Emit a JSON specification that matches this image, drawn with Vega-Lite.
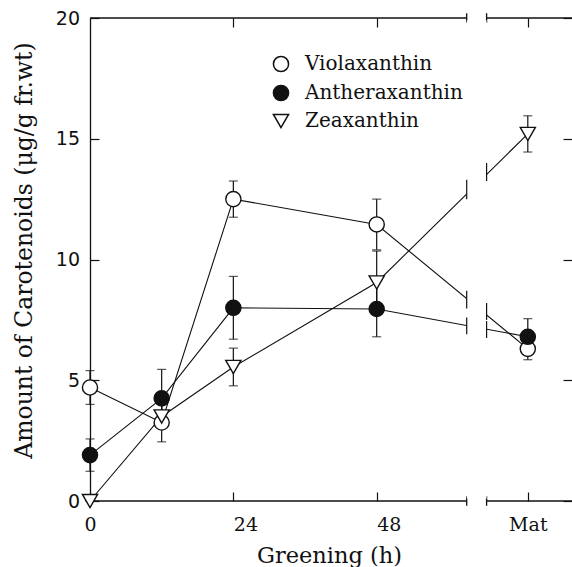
{
  "$schema": "https://vega.github.io/schema/vega-lite/v6.json",
  "width": 482,
  "height": 483,
  "autosize": {"type": "none"},
  "padding": {"left": 90, "top": 18, "right": 0, "bottom": 66},
  "background": "white",
  "config": {
    "view": {"stroke": null},
    "axis": {"tickColor": "#111", "tickWidth": 1.2, "domainColor": "#111", "domainWidth": 1.3, "labelColor": "#111", "titleColor": "#111", "grid": false}
  },
  "datasets": {
    "pts": [
      {"series": "Violaxanthin", "t": 0, "v": 4.7, "err": 0.7},
      {"series": "Violaxanthin", "t": 12, "v": 3.25, "err": 0.8},
      {"series": "Violaxanthin", "t": 24, "v": 12.5, "err": 0.75},
      {"series": "Violaxanthin", "t": 48, "v": 11.45, "err": 1.05},
      {"series": "Violaxanthin", "t": 73.3, "v": 6.3, "err": 0.45},
      {"series": "Antheraxanthin", "t": 0, "v": 1.9, "err": 0.67},
      {"series": "Antheraxanthin", "t": 12, "v": 4.25, "err": 1.2},
      {"series": "Antheraxanthin", "t": 24, "v": 8.0, "err": 1.3},
      {"series": "Antheraxanthin", "t": 48, "v": 7.95, "err": 1.15},
      {"series": "Antheraxanthin", "t": 73.3, "v": 6.8, "err": 0.75},
      {"series": "Zeaxanthin", "t": 0, "v": 0.0, "err": 0},
      {"series": "Zeaxanthin", "t": 12, "v": 3.5, "err": 0.5},
      {"series": "Zeaxanthin", "t": 24, "v": 5.55, "err": 0.78},
      {"series": "Zeaxanthin", "t": 48, "v": 9.05, "err": 1.3},
      {"series": "Zeaxanthin", "t": 73.3, "v": 15.2, "err": 0.75}
    ],
    "hframe": [
      {"x": 0, "x2": 63.07, "y": 0},
      {"x": 66.4, "x2": 80.7, "y": 0},
      {"x": 0, "x2": 63.07, "y": 20},
      {"x": 66.4, "x2": 80.7, "y": 20}
    ],
    "caps": [
      {"x": 63.07, "y": -0.2, "y2": 0.2},
      {"x": 66.4, "y": -0.2, "y2": 0.2},
      {"x": 63.07, "y": 19.8, "y2": 20.2},
      {"x": 66.4, "y": 19.8, "y2": 20.2}
    ],
    "gap": [
      {"x": 63.07, "x2": 66.4, "y": 0.1, "y2": 19.9}
    ],
    "bars": [
      {"x": 63.07, "y": 7.97, "y2": 8.71},
      {"x": 66.4, "y": 7.5, "y2": 8.2},
      {"x": 63.07, "y": 6.9, "y2": 7.6},
      {"x": 66.4, "y": 6.75, "y2": 7.45},
      {"x": 63.07, "y": 12.5, "y2": 13.3},
      {"x": 66.4, "y": 13.25, "y2": 14.0}
    ]
  },
  "resolve": {"axis": {"x": "independent", "y": "independent"}},
  "layer": [
    {
      "data": {"name": "hframe"},
      "mark": {"type": "rule", "color": "#111", "strokeWidth": 1.3},
      "encoding": {
        "x": {"field": "x", "type": "quantitative", "scale": {"domain": [0, 80.7], "nice": false, "zero": false},
          "axis": {"orient": "bottom", "values": [0, 24, 48, 73.3], "labelExpr": "datum.value > 70 ? 'Mat' : datum.label",
            "tickSize": -9, "domain": false, "labelFont": "DejaVu Serif", "labelFontSize": 19, "labelPadding": 23,
            "labelAlign": {"condition": {"test": "datum.value == 24 || datum.value == 48", "value": "left"}, "value": "center"},
            "labelBaseline": "top",
            "title": "Greening (h)", "titleFont": "DejaVu Serif", "titleFontSize": 22.5, "titleFontWeight": "normal",
            "titleX": 239, "titleY": 61, "titleAlign": "center", "titleBaseline": "alphabetic"}},
        "x2": {"field": "x2"},
        "y": {"field": "y", "type": "quantitative", "scale": {"domain": [0, 20], "nice": false, "zero": false},
          "axis": {"orient": "left", "values": [0, 5, 10, 15, 20], "tickSize": -9, "domain": true,
            "labelFont": "DejaVu Sans", "labelFontSize": 19, "labelPadding": 19.5, "labelBaseline": "middle",
            "title": "Amount of Carotenoids (\u03bcg/g fr.wt)", "titleFont": "DejaVu Serif", "titleFontSize": 23.5, "titleFontWeight": "normal",
            "titleX": -58.5, "titleY": 232, "titleAlign": "center", "titleBaseline": "alphabetic", "titleAngle": -90}}
      }
    },
    {
      "data": {"name": "caps"},
      "mark": {"type": "rule", "color": "#111", "strokeWidth": 1.3},
      "encoding": {
        "x": {"field": "x", "type": "quantitative", "scale": {"domain": [0, 80.7], "nice": false, "zero": false},
          "axis": {"orient": "top", "values": [24, 48, 73.3], "labels": false, "tickSize": -9, "domain": false, "title": null}},
        "y": {"field": "y", "type": "quantitative", "scale": {"domain": [0, 20], "nice": false, "zero": false},
          "axis": {"orient": "right", "values": [0, 5, 10, 15, 20], "labels": false, "tickSize": -9, "domain": false, "title": null}},
        "y2": {"field": "y2"}
      }
    },
    {
      "data": {"name": "pts"},
      "mark": {"type": "line", "color": "#111", "strokeWidth": 1.1},
      "encoding": {
        "x": {"field": "t", "type": "quantitative", "scale": {"domain": [0, 80.7], "nice": false, "zero": false}, "axis": null},
        "y": {"field": "v", "type": "quantitative", "scale": {"domain": [0, 20], "nice": false, "zero": false}, "axis": null},
        "detail": {"field": "series", "type": "nominal"}
      }
    },
    {
      "data": {"name": "gap"},
      "mark": {"type": "rect", "fill": "white", "stroke": null},
      "encoding": {
        "x": {"field": "x", "type": "quantitative", "scale": {"domain": [0, 80.7], "nice": false, "zero": false}, "axis": null},
        "x2": {"field": "x2"},
        "y": {"field": "y", "type": "quantitative", "scale": {"domain": [0, 20], "nice": false, "zero": false}, "axis": null},
        "y2": {"field": "y2"}
      }
    },
    {
      "data": {"name": "bars"},
      "mark": {"type": "rule", "color": "#111", "strokeWidth": 1.2},
      "encoding": {
        "x": {"field": "x", "type": "quantitative", "scale": {"domain": [0, 80.7], "nice": false, "zero": false}, "axis": null},
        "y": {"field": "y", "type": "quantitative", "scale": {"domain": [0, 20], "nice": false, "zero": false}, "axis": null},
        "y2": {"field": "y2"}
      }
    },
    {
      "data": {"name": "pts"},
      "mark": {"type": "errorbar", "orient": "vertical", "ticks": true, "size": 9, "thickness": 1.2, "color": "#111"},
      "encoding": {
        "x": {"field": "t", "type": "quantitative", "scale": {"domain": [0, 80.7], "nice": false, "zero": false}, "axis": null},
        "y": {"field": "v", "type": "quantitative", "scale": {"domain": [0, 20], "nice": false, "zero": false}, "axis": null},
        "yError": {"field": "err"}
      }
    },
    {
      "data": {"name": "pts"},
      "mark": {"type": "point", "filled": false, "stroke": "#111", "strokeWidth": 1.4, "size": 230, "opacity": 1},
      "encoding": {
        "x": {"field": "t", "type": "quantitative", "scale": {"domain": [0, 80.7], "nice": false, "zero": false}, "axis": null},
        "y": {"field": "v", "type": "quantitative", "scale": {"domain": [0, 20], "nice": false, "zero": false}, "axis": null},
        "fill": {"field": "series", "type": "nominal",
          "scale": {"domain": ["Violaxanthin", "Antheraxanthin", "Zeaxanthin"], "range": ["white", "#111", "white"]},
          "legend": {"orient": "none", "legendX": 181, "legendY": 36, "title": null, "padding": 0, "labelFont": "DejaVu Serif", "labelFontSize": 20, "labelColor": "#111", "labelOffset": 14, "rowPadding": 7, "symbolSize": 230,
            "encode": {"symbols": {"update": {"stroke": {"value": "#111"}, "strokeWidth": {"value": 1.4}}}}}},
        "shape": {"field": "series", "type": "nominal",
          "scale": {"domain": ["Violaxanthin", "Antheraxanthin", "Zeaxanthin"], "range": ["circle", "circle", "triangle-down"]},
          "legend": {"orient": "none", "legendX": 181, "legendY": 36, "title": null, "padding": 0, "labelFont": "DejaVu Serif", "labelFontSize": 20, "labelColor": "#111", "labelOffset": 14, "rowPadding": 7, "symbolSize": 230,
            "encode": {"symbols": {"update": {"stroke": {"value": "#111"}, "strokeWidth": {"value": 1.4}}}}}}
      }
    }
  ]
}
